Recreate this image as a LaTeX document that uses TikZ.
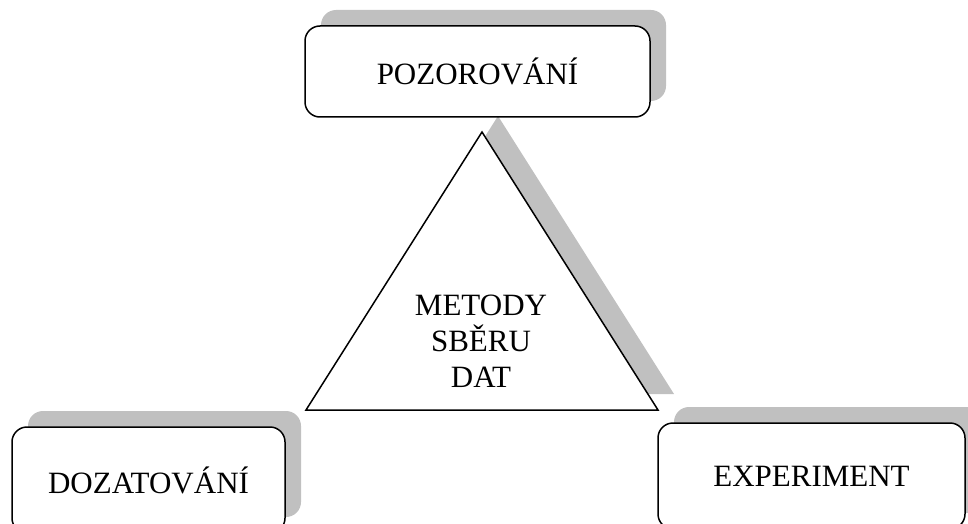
\documentclass[tikz,border=0pt]{standalone}
\usepackage{fontspec}
\setmainfont{Liberation Serif}
\usetikzlibrary{shadows}
\definecolor{shadowgray}{RGB}{192,192,192}

\tikzset{
	methodbox/.style={draw, line width=1.5pt, fill=white, rounded corners=15pt, inner sep=0pt,
		font=\fontsize{31}{36}\selectfont,
		drop shadow={shadow xshift=16pt, shadow yshift=16pt, fill=shadowgray, opacity=1}}
}

\begin{document}
\begin{tikzpicture}[x=1pt,y=-1pt]
	\useasboundingbox (0,0) rectangle (968,524);
	\clip (0,0) rectangle (968,524);
	% triangle in the middle
	\coordinate (apex) at (482,132);
	\coordinate (left) at (306,410);
	\coordinate (right) at (658,410);
	\fill[shadowgray] ([shift={(16,-16)}]apex) -- ([shift={(16,-16)}]left) -- ([shift={(16,-16)}]right) -- cycle;
	\draw[line width=1.5pt, fill=white] (apex) -- (left) -- (right) -- cycle;
	\node[font=\fontsize{31}{36}\selectfont, align=center] (metody) at (481,341) {METODY\\SBĚRU\\DAT};
	% the three methods
	\node[methodbox, minimum width=345pt, minimum height=91pt] (pozorovani) at (477.5,71.5) {POZOROVÁNÍ};
	\node[methodbox, minimum width=273pt, minimum height=106pt] (dozatovani) at (148.5,480) {DOZATOVÁNÍ};
	\node[methodbox, minimum width=307pt, minimum height=106pt] (experiment) at (811.5,476) {EXPERIMENT};
\end{tikzpicture}
\end{document}
